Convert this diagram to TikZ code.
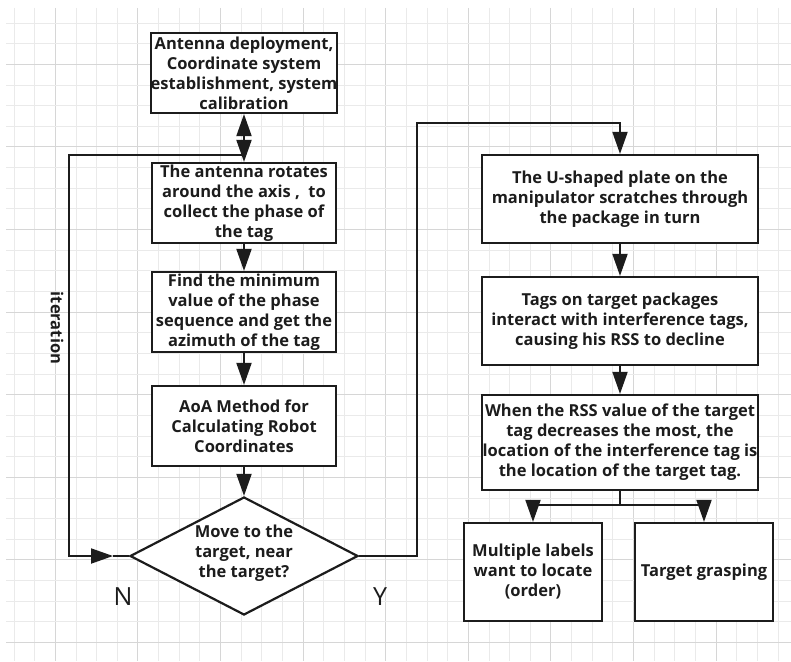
\documentclass[tikz,border=0pt]{standalone}
\usepackage{fontspec}
\setmainfont{Open Sans}
\usetikzlibrary{arrows.meta,shapes.geometric}
\definecolor{ink}{RGB}{28,28,28}
\definecolor{gridminor}{RGB}{234,234,234}
\definecolor{gridmajor}{RGB}{214,214,214}

\begin{document}
\begin{tikzpicture}[x=1pt,y=-1pt, every node/.style={align=center,text=ink,font=\bfseries\fontsize{16.5}{20}\selectfont}, proc/.style={rectangle,draw=ink,line width=2.2pt,inner sep=0pt}, decide/.style={diamond,draw=ink,line width=2.2pt,inner sep=0pt}, conn/.style={line width=1.9pt,draw=ink}, flow/.style={conn,-{Triangle[length=22pt,width=15pt]}}, both/.style={conn,{Triangle[length=22pt,width=15pt]}-{Triangle[length=22pt,width=15pt]}}, yn/.style={font=\fontsize{25}{25}\selectfont}]
  \useasboundingbox[fill=white] (0,0) rectangle (791,661);
  \foreach \i in {0,...,37} {\pgfmathsetmacro\gx{14+20.65*\i} \pgfmathtruncatemacro\gm{mod(\i,4)} \ifnum\gm=2 \draw[gridmajor,line width=0.9pt] (\gx,8) -- (\gx,661); \else \draw[gridminor,line width=0.9pt] (\gx,8) -- (\gx,661); \fi}
  \foreach \j in {0,...,30} {\pgfmathsetmacro\gy{23+20.65*\j} \pgfmathtruncatemacro\gm{mod(\j,4)} \ifnum\gm=2 \draw[gridmajor,line width=0.9pt] (6,\gy) -- (791,\gy); \else \draw[gridminor,line width=0.9pt] (6,\gy) -- (791,\gy); \fi}
  % left column
  \node[proc,fill=white,minimum width=184pt,minimum height=80pt] (deploy) at (244,73) {Antenna deployment,\\Coordinate system\\establishment, system\\calibration};
  \node[proc,fill=white,minimum width=184pt,minimum height=80pt] (rotate) at (244,203) {The antenna rotates\\around the axis ,\ \ to\\collect the phase of\\the tag};
  \node[proc,fill=white,minimum width=184pt,minimum height=80pt] (minph) at (244,312) {Find the minimum\\value of the phase\\sequence and get the\\azimuth of the tag};
  \node[proc,fill=white,minimum width=184pt,minimum height=80pt] (aoa) at (244,426) {AoA Method for\\Calculating Robot\\Coordinates};
  \node[decide,fill=white,minimum width=228pt,minimum height=118pt] (near) at (244,556) {};
  \node (neartxt) at (244,553) {Move to the\\target, near\\the target?};
  % right column
  \node[proc,fill=white,minimum width=276pt,minimum height=88pt] (plate) at (620,199) {The U-shaped plate on the\\manipulator scratches through\\the package in turn};
  \node[proc,fill=white,minimum width=276pt,minimum height=88pt] (interact) at (620,321) {Tags on target packages\\interact with interference tags,\\causing his RSS to decline};
  \node[proc,fill=white,minimum width=276pt,minimum height=95pt] (locate) at (620,442.5) {When the RSS value of the target\\tag decreases the most, the\\location of the interference tag is\\the location of the target tag.};
  \node[proc,fill=white,minimum width=138pt,minimum height=98pt] (multi) at (533,572) {Multiple labels\\want to locate\\(order)};
  \node[proc,fill=white,minimum width=138pt,minimum height=98pt] (grasp) at (704,572) {Target grasping};
  % labels
  \node[rotate=-90] (iter) at (57,328) {iteration};
  \node[yn] (nlab) at (123,597) {N};
  \node[yn] (ylab) at (380,597) {Y};
  % connectors
  \coordinate (loopj) at (244,155);
  \coordinate (loopc) at (69,155);
  \coordinate (loopm) at (113,556);
  \coordinate (yturn) at (417,123);
  \coordinate (fork) at (620,505);
  \draw[both] (deploy) -- (rotate);
  \draw[flow] (loopj) -- (loopc) |- (loopm);
  \draw[conn] (loopm) -- (near.west);
  \draw[flow] (rotate) -- (minph);
  \draw[flow] (minph) -- (aoa);
  \draw[flow] (aoa) -- (near);
  \draw[flow] (near.east) -| (yturn) -| (plate.north);
  \draw[flow] (plate) -- (interact);
  \draw[flow] (interact) -- (locate);
  \draw[conn] (locate) -- (fork);
  \draw[flow] (fork) -| (multi.north);
  \draw[flow] (fork) -| (grasp.north);
\end{tikzpicture}
\end{document}
